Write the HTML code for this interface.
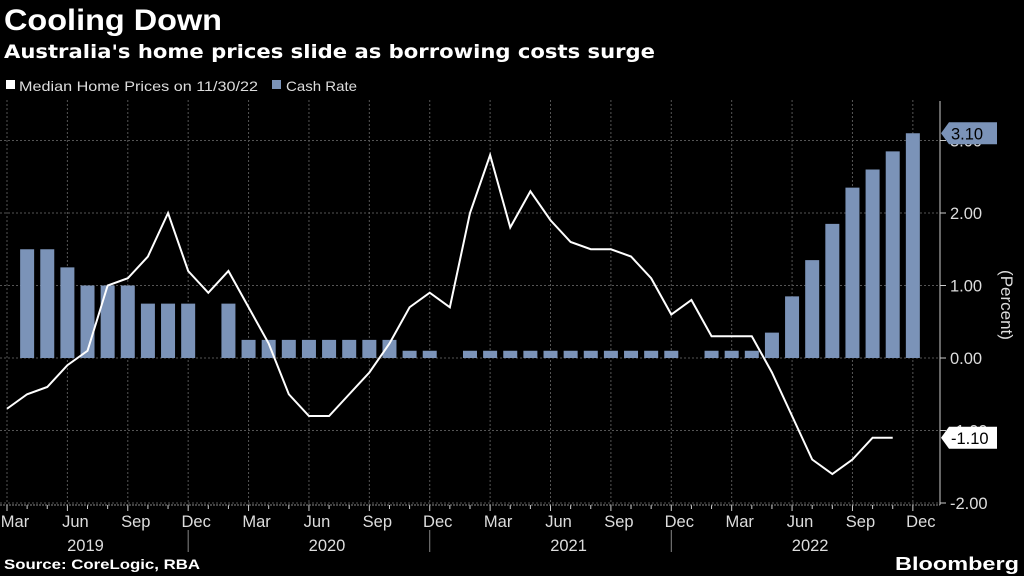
<!DOCTYPE html>
<html><head><meta charset="utf-8"><style>
html,body{margin:0;padding:0;background:#000;width:1024px;height:576px;overflow:hidden;font-family:"Liberation Sans",sans-serif;color:#fff}
svg{display:block}
</style></head><body>
<svg width="1024" height="576" xmlns="http://www.w3.org/2000/svg">
<text x="4" y="30" font-size="30" font-weight="bold" fill="#fff" textLength="218" lengthAdjust="spacingAndGlyphs">Cooling Down</text>
<text x="4" y="58" font-size="19" font-weight="bold" fill="#fff" font-family="DejaVu Sans, sans-serif" textLength="651" lengthAdjust="spacingAndGlyphs">Australia's home prices slide as borrowing costs surge</text>
<g>
<rect x="6" y="80" width="9" height="9" fill="#fff"/>
<text x="19" y="91" font-size="14" fill="#ddd" textLength="239" lengthAdjust="spacingAndGlyphs">Median Home Prices on 11/30/22</text>
<rect x="272" y="80" width="9" height="9" fill="#7b93b8"/>
<text x="286" y="91" font-size="14" fill="#ddd" textLength="71" lengthAdjust="spacingAndGlyphs">Cash Rate</text>
</g>
<g id="grid"></g><g id="bars"></g><g id="line"></g><g id="axes"></g>
<text transform="translate(1001,305) rotate(90)" text-anchor="middle" font-size="17" fill="#ddd">(Percent)</text>
<text x="4" y="569" font-size="14" font-weight="bold" fill="#fff" textLength="196" lengthAdjust="spacingAndGlyphs">Source: CoreLogic, RBA</text>
<text x="895" y="570" font-size="18" font-weight="bold" fill="#fff" textLength="124" lengthAdjust="spacingAndGlyphs">Bloomberg</text>
</svg>
<script>
const NS="http://www.w3.org/2000/svg";
// month index 0 = Mar 2019
const cashMonths=[1,2,3,4,5,6,7,8,9,11,12,13,14,15,16,17,18,19,20,21,23,24,25,26,27,28,29,30,31,32,33,35,36,37,38,39,40,41,42,43,44,45];
const cashRate=[1.5,1.5,1.25,1.0,1.0,1.0,0.75,0.75,0.75,0.75,0.25,0.25,0.25,0.25,0.25,0.25,0.25,0.25,0.1,0.1,0.1,0.1,0.1,0.1,0.1,0.1,0.1,0.1,0.1,0.1,0.1,0.1,0.1,0.1,0.35,0.85,1.35,1.85,2.35,2.6,2.85,3.1];
const homePrices=[-0.7,-0.5,-0.4,-0.1,0.1,1.0,1.1,1.4,2.0,1.2,0.9,1.2,0.7,0.2,-0.5,-0.8,-0.8,-0.5,-0.2,0.2,0.7,0.9,0.7,2.0,2.8,1.8,2.3,1.9,1.6,1.5,1.5,1.4,1.1,0.6,0.8,0.3,0.3,0.3,-0.2,-0.8,-1.4,-1.6,-1.4,-1.1,-1.1];
const yTicks=[3,2,1,0,-1,-2];
const yTickLabels=["3.00","2.00","1.00","0.00","-1.00","-2.00"];
const monthLabels=["Mar","Jun","Sep","Dec"];
const years=["2019","2020","2021","2022"];
const x=i=>7+20.13*i;
const y=v=>358-72.5*v;
function mk(tag,attrs,parent,txt){const e=document.createElementNS(NS,tag);for(const k in attrs)e.setAttribute(k,attrs[k]);if(txt!=null)e.textContent=txt;parent.appendChild(e);return e;}
const G=document.getElementById('grid'),B=document.getElementById('bars'),L=document.getElementById('line'),A=document.getElementById('axes');
yTicks.forEach((t,k)=>{
 const g=mk('line',{x1:0,x2:940,y1:y(t),y2:y(t),stroke:'#555','stroke-dasharray':'2,2'},G);
 
 
 const tk=mk('line',{x1:940,x2:946,y1:y(t),y2:y(t),stroke:'#ccc'},A);
 
 
 const lb=mk('text',{x:950,y:y(t)+6,'font-size':16.5,fill:'#ddd'},A,yTickLabels[k]);
 
 
});
for(let i=0;i<=45;i++){
 if(i%3===0){
  const v=mk('line',{x1:x(i),x2:x(i),y1:100,y2:505,stroke:'#555','stroke-dasharray':'2,2'},G);
  
  
  const lb=mk('text',{x:x(i)+8,y:527,'text-anchor':'middle','font-size':16.5,fill:'#ddd'},A,monthLabels[(i/3)%4]);
  
  
 }
 const tk=mk('line',{x1:x(i),x2:x(i),y1:505,y2:i%3===0?511:509,stroke:'#ccc'},A);
 
 
}
const base=mk('line',{x1:0,x2:940,y1:505,y2:505,stroke:'#888','stroke-dasharray':'2,1'},A);


years.forEach((yr,k)=>{
 const cx=k===0?x(3.5):x(9+12*k-6+0.5);
 const t=mk('text',{x:cx+8,y:551,'text-anchor':'middle','font-size':16.5,fill:'#ddd'},A,yr);
 
 
 if(k<3){const s=mk('line',{x1:x(9+12*k),x2:x(9+12*k),y1:530,y2:552,stroke:'#888'},A);
 
 }
});
const ax=mk('line',{x1:940,x2:940,y1:101,y2:505,stroke:'#ccc'},A);


cashMonths.forEach((m,k)=>{
 const v=cashRate[k];
 const r=mk('rect',{x:x(m)-7,y:y(v),width:14,height:y(0)-y(v),fill:'#7b93b8'},B);
 
 
});
const pts=homePrices.map((v,i)=>x(i)+','+y(v)).join(' ');
const pl=mk('polyline',{points:pts,fill:'none',stroke:'#fff','stroke-width':2},L);


function flag(v,txt,bg,fg,name){
 const yy=y(v);
 const g=mk('g',{},A);
 
 
 mk('path',{d:`M941 ${yy} L949 ${yy-11} L997 ${yy-11} L997 ${yy+11} L949 ${yy+11} Z`,fill:bg},g);
 mk('text',{x:951,y:yy+6,'font-size':16.5,fill:fg},g,txt);
}
flag(cashRate[cashRate.length-1],cashRate[cashRate.length-1].toFixed(2),'#7b93b8','#000','cash-rate-last-value');
flag(homePrices[homePrices.length-1],homePrices[homePrices.length-1].toFixed(2),'#fff','#000','home-prices-last-value');
</script>
</body></html>
